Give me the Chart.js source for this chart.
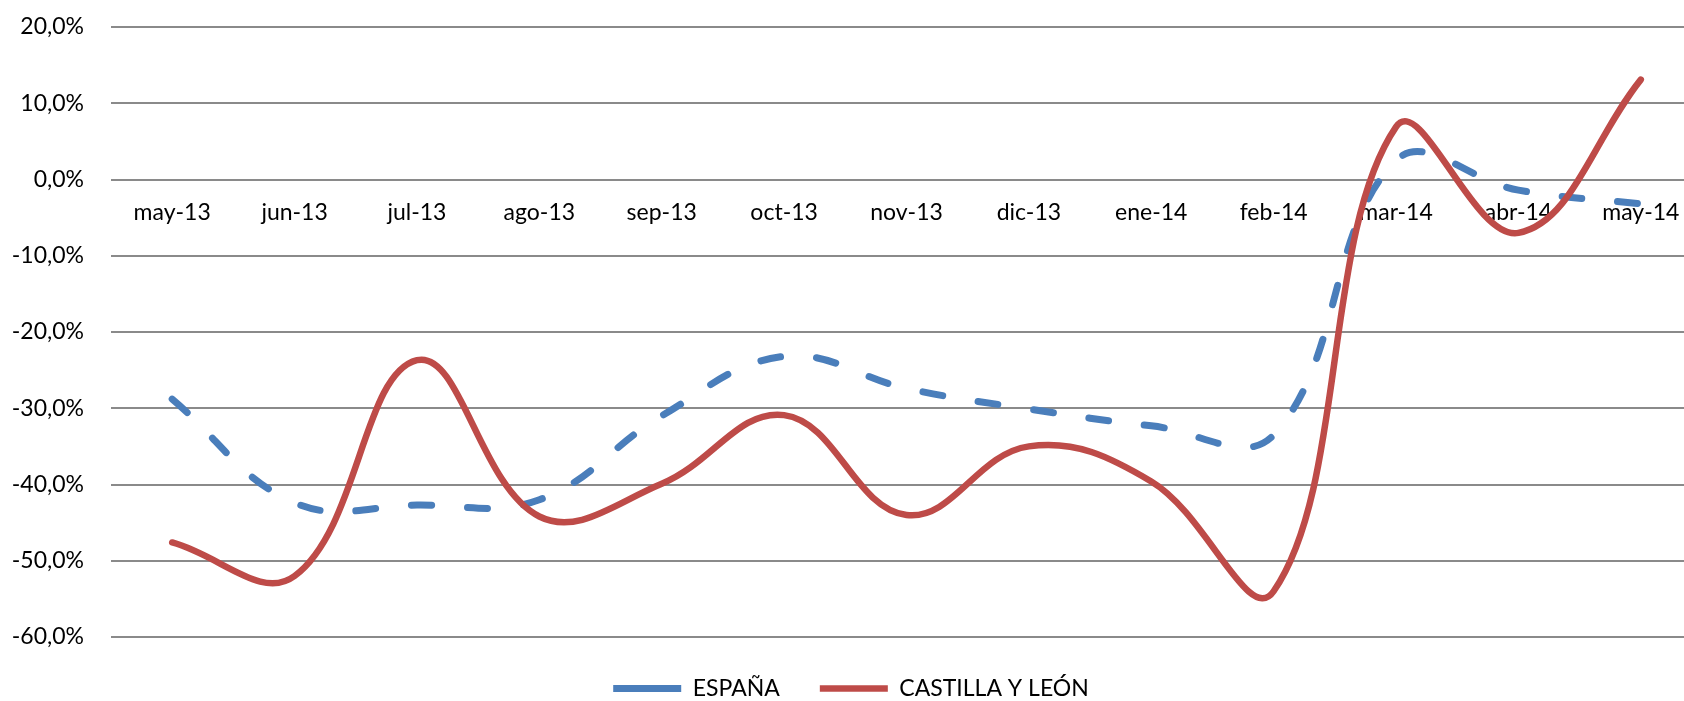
<!DOCTYPE html>
<html lang="es">
<head>
  <meta charset="UTF-8">
  <title>España vs Castilla y León</title>
  <script src="https://cdn.jsdelivr.net/npm/chart.js"></script>
  <style>
    html, body { margin: 0; padding: 0; background: #fff; overflow: hidden; }
  </style>
</head>
<body>
  <canvas id="grafico" width="1702" height="710"></canvas>

  <script>
    // datos (variacion interanual, %)
    const meses = ['may-13', 'jun-13', 'jul-13', 'ago-13', 'sep-13', 'oct-13', 'nov-13',
                   'dic-13', 'ene-14', 'feb-14', 'mar-14', 'abr-14', 'may-14'];
    const espana = [-28.8, -42.4, -42.7, -42.0, -31.0, -23.2, -27.4, -30.1, -32.3, -33.5, 2.5, -1.4, -3.2];
    const castillaLeon = [-47.6, -52.0, -23.7, -44.2, -39.9, -30.9, -44.0, -35.0, -39.6, -54.0, 6.9, -7.0, 13.1];
    const ejeY = { min: -60, max: 20, paso: 10 };

    const fuente = 'Lato, "Open Sans", sans-serif';

    new Chart(document.getElementById('grafico').getContext('2d'), {
      type: 'line',
      data: {
        labels: meses,
        datasets: [
          {
            label: 'ESPAÑA',
            data: espana,
            borderColor: '#4A7EBB',
            backgroundColor: '#4A7EBB',
            borderWidth: 7,
            borderDash: [20, 36],
            borderCapStyle: 'round',
            borderJoinStyle: 'round',
            tension: 0.4,
            pointRadius: 0,
            order: 1
          },
          {
            label: 'CASTILLA Y LEÓN',
            data: castillaLeon,
            borderColor: '#BE4B48',
            backgroundColor: '#BE4B48',
            borderWidth: 6.5,
            borderCapStyle: 'round',
            borderJoinStyle: 'round',
            tension: 0.4,
            pointRadius: 0,
            order: 0
          }
        ]
      },
      options: {
        responsive: false,
        animation: false,
        layout: { padding: { top: 27, right: 0, bottom: 0, left: 0 } },
        scales: {
          x: {
            position: { y: 0 },
            offset: true,
            grid: { display: false },
            border: { display: false },
            ticks: {
              color: '#000',
              font: { family: fuente, size: 23 },
              padding: 11,
              maxRotation: 0,
              autoSkip: false
            }
          },
          y: {
            min: ejeY.min,
            max: ejeY.max,
            afterFit: (scale) => {
              // ancho fijo del eje y sin reservar hueco extra arriba/abajo
              scale.width = 111;
              scale.paddingTop = 0;
              scale.paddingBottom = 0;
            },
            grid: { color: '#8a8a8a', lineWidth: 2, drawTicks: false },
            border: { display: false },
            ticks: {
              stepSize: ejeY.paso,
              color: '#000',
              padding: 27,
              font: { family: fuente, size: 23 },
              callback: (v) => v.toFixed(1).replace('.', ',') + '%'
            }
          }
        },
        plugins: {
          tooltip: { enabled: false },
          legend: {
            position: 'bottom',
            labels: {
              usePointStyle: true,
              pointStyle: 'line',
              pointStyleWidth: 68,
              padding: 40,
              color: '#000',
              font: { family: fuente, size: 23 },
              sort: (a, b) => a.datasetIndex - b.datasetIndex
            }
          }
        }
      }
    });
  </script>
</body>
</html>
